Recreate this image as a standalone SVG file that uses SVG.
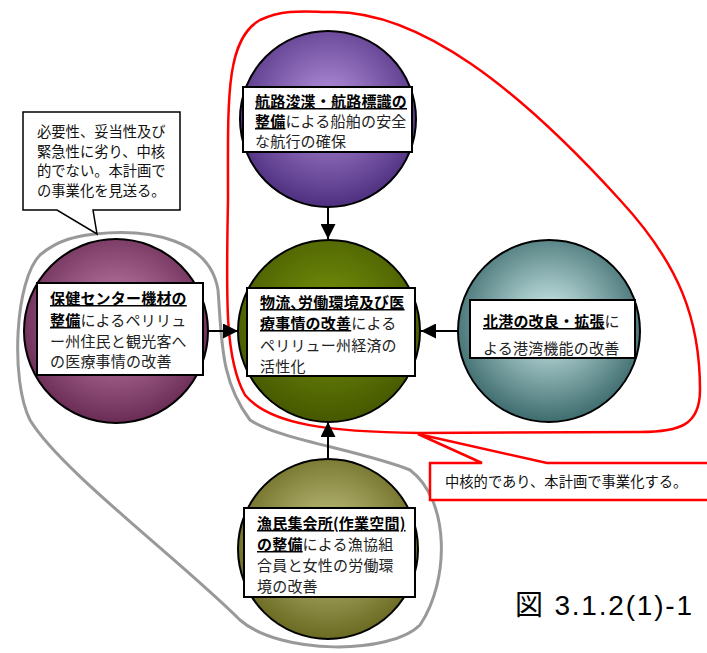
<svg xmlns="http://www.w3.org/2000/svg" width="707" height="653" viewBox="0 0 707 653">
<style>
.c{stroke:#000;stroke-width:2}
.box{fill:#fff;stroke:#000;stroke-width:2}
.t{font-family:"Noto Sans CJK JP","Noto Sans CJK SC",sans-serif;font-size:15px;letter-spacing:0.2px;fill:#222}
.b{font-weight:bold;text-decoration:underline;fill:#000}
.cl{font-family:"Noto Sans CJK JP","Noto Sans CJK SC",sans-serif;font-size:14.3px;fill:#111}
.ln{stroke:#000;stroke-width:2;fill:none}
</style>
<defs>
<radialGradient id="gp" cx="50%" cy="42%" r="58%"><stop offset="0" stop-color="#b894e0"/><stop offset="1" stop-color="#4e2f80"/></radialGradient>
<radialGradient id="gg" cx="50%" cy="42%" r="58%"><stop offset="0" stop-color="#78960c"/><stop offset="1" stop-color="#465800"/></radialGradient>
<radialGradient id="gk" cx="50%" cy="45%" r="55%"><stop offset="0" stop-color="#cc88b4"/><stop offset="1" stop-color="#6a2c55"/></radialGradient>
<radialGradient id="gt" cx="50%" cy="45%" r="55%"><stop offset="0" stop-color="#d8f4f4"/><stop offset="1" stop-color="#3e6c6e"/></radialGradient>
<radialGradient id="go" cx="50%" cy="45%" r="55%"><stop offset="0" stop-color="#cccc8c"/><stop offset="1" stop-color="#6a6a22"/></radialGradient>
<marker id="ah" viewBox="0 0 15 15" refX="15" refY="7.5" markerWidth="15" markerHeight="15" markerUnits="userSpaceOnUse" orient="auto"><path d="M0 0L15 7.5L0 15Z" fill="#000"/></marker>
</defs>

<g id="loops">
<path d="M330 12 C420 10 520 90 620 200 C680 265 700 320 700 390 C700 425 680 432 640 432 L420 433 C330 432 270 425 245 395 C225 360 226 300 228 200 C228 100 225 40 260 20 C285 8 310 12 330 12 Z" fill="none" stroke="#f00" stroke-width="2.5"/>
<path d="M95 234 C150 228 210 240 218 290 C222 340 220 380 250 420 C280 440 360 450 410 470 C450 500 450 580 420 625 C390 655 280 655 240 620 C180 560 60 470 30 420 C10 380 15 280 40 255 C60 238 80 236 95 234 Z" fill="none" stroke="#999" stroke-width="3"/>
</g>

<g id="connectors">
<line class="ln" x1="328" y1="207" x2="328" y2="239" marker-end="url(#ah)"/>
<line class="ln" x1="208" y1="331" x2="238" y2="331" marker-end="url(#ah)"/>
<line class="ln" x1="458" y1="331" x2="421" y2="331" marker-end="url(#ah)"/>
<line class="ln" x1="328" y1="458" x2="328" y2="422" marker-end="url(#ah)"/>
</g>

<g id="node-top">
<circle class="c" cx="328" cy="119" r="88" fill="url(#gp)"/>
<rect class="box" x="243" y="87" width="169" height="65"/>
<text class="t" x="255" y="107"><tspan class="b">航路浚渫・航路標識の</tspan></text>
<text class="t" x="255" y="127"><tspan class="b">整備</tspan>による船舶の安全</text>
<text class="t" x="255" y="147">な航行の確保</text>
</g>

<g id="node-center">
<circle class="c" cx="329" cy="331" r="91" fill="url(#gg)"/>
<rect class="box" x="247" y="288" width="168" height="88"/>
<text class="t" x="260" y="308"><tspan class="b">物流､労働環境及び医</tspan></text>
<text class="t" x="260" y="329"><tspan class="b">療事情の改善</tspan>による</text>
<text class="t" x="260" y="351">ペリリュー州経済の</text>
<text class="t" x="260" y="372">活性化</text>
</g>

<g id="node-left">
<circle class="c" cx="116" cy="331" r="92" fill="url(#gk)"/>
<rect class="box" x="37" y="283" width="166" height="92"/>
<text class="t" x="50" y="304"><tspan class="b">保健センター機材の</tspan></text>
<text class="t" x="50" y="326"><tspan class="b">整備</tspan>によるペリリュ</text>
<text class="t" x="50" y="347">ー州住民と観光客へ</text>
<text class="t" x="50" y="367">の医療事情の改善</text>
</g>

<g id="node-right">
<circle class="c" cx="549" cy="331" r="91" fill="url(#gt)"/>
<rect class="box" x="470" y="300" width="165" height="58"/>
<text class="t" x="483" y="327"><tspan class="b">北港の改良・拡張</tspan>に</text>
<text class="t" x="483" y="354">よる港湾機能の改善</text>
</g>

<g id="node-bottom">
<circle class="c" cx="328" cy="549" r="90" fill="url(#go)"/>
<rect class="box" x="244" y="508" width="171" height="89"/>
<text class="t" x="257" y="529"><tspan class="b">漁民集会所(作業空間)</tspan></text>
<text class="t" x="257" y="550"><tspan class="b">の整備</tspan>による漁協組</text>
<text class="t" x="257" y="571">合員と女性の労働環</text>
<text class="t" x="257" y="592">境の改善</text>
</g>

<g id="callout-gray">
<path d="M23 112 H180 V210 H93 L97 234 L57 210 H23 Z" fill="#fff" stroke="#000" stroke-width="1.5"/>
<text class="cl" x="37" y="137">必要性、妥当性及び</text>
<text class="cl" x="37" y="157">緊急性に劣り、中核</text>
<text class="cl" x="37" y="176">的でない。本計画で</text>
<text class="cl" x="37" y="196">の事業化を見送る。</text>
</g>

<g id="callout-red">
<path d="M430 463 H482 L418 434 L547 463 H712 V500 H430 Z" fill="#fff" stroke="#f00" stroke-width="2.5"/>
<text class="cl" x="445" y="487">中核的であり、本計画で事業化する。</text>
</g>

<text x="515" y="615" font-family="Liberation Sans,Noto Sans CJK JP,sans-serif" font-size="28" fill="#000" textLength="177" lengthAdjust="spacing">図 3.1.2(1)-1</text>
</svg>
